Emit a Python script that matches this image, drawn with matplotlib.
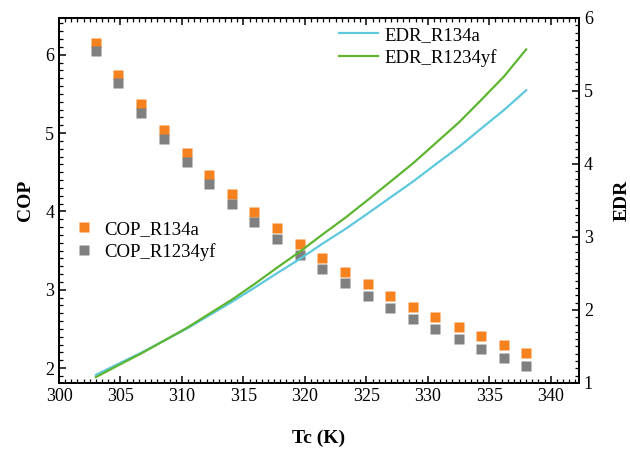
import matplotlib

matplotlib.use("Agg")
import matplotlib.pyplot as plt
from matplotlib.ticker import MultipleLocator

plt.rcParams["font.family"] = ["Liberation Serif", "DejaVu Serif"]

# condensing temperature (K)
tc = [303.0, 304.8, 306.7, 308.5, 310.4, 312.2, 314.1, 315.9, 317.7, 319.6,
      321.4, 323.3, 325.1, 326.9, 328.8, 330.6, 332.5, 334.3, 336.2, 338.0]

cop_r134a = [6.157, 5.748, 5.378, 5.045, 4.744, 4.470, 4.220, 3.990, 3.785, 3.585,
             3.400, 3.231, 3.074, 2.924, 2.783, 2.648, 2.528, 2.409, 2.299, 2.188]
cop_r1234yf = [6.051, 5.638, 5.263, 4.927, 4.629, 4.348, 4.096, 3.866, 3.645, 3.448,
               3.261, 3.086, 2.920, 2.770, 2.630, 2.494, 2.366, 2.243, 2.132, 2.022]

edr_r134a = [1.11, 1.26, 1.415, 1.575, 1.745, 1.925, 2.115, 2.305, 2.50, 2.70,
             2.905, 3.11, 3.32, 3.535, 3.76, 3.99, 4.23, 4.48, 4.74, 5.01]
edr_r1234yf = [1.08, 1.24, 1.405, 1.575, 1.755, 1.945, 2.145, 2.355, 2.575, 2.80,
               3.03, 3.265, 3.505, 3.75, 4.01, 4.28, 4.565, 4.87, 5.20, 5.57]

ORANGE = "#f5821f"
GRAY = "#808080"
BLUE = "#5ec8dc"
GREEN = "#5db531"

fig = plt.figure(figsize=(6.3, 4.5), dpi=100)
ax = fig.add_axes([0.0937, 0.149, 0.8254, 0.811])
ax2 = ax.twinx()

ax.plot(tc, cop_r134a, "s", ms=6.5, color=ORANGE, mec="none", label="COP_R134a")
ax.plot(tc, cop_r1234yf, "s", ms=6.5, color=GRAY, mec="none", label="COP_R1234yf")
ax2.plot(tc, edr_r134a, "-", lw=1.6, color=BLUE, label="EDR_R134a")
ax2.plot(tc, edr_r1234yf, "-", lw=1.6, color=GREEN, label="EDR_R1234yf")

ax.set_xlim(300, 342.3)
ax.set_ylim(1.81, 6.47)
ax2.set_ylim(1, 6)

ax.xaxis.set_major_locator(MultipleLocator(5))
ax.xaxis.set_minor_locator(MultipleLocator(0.5))
ax.yaxis.set_major_locator(MultipleLocator(1))
ax.yaxis.set_minor_locator(MultipleLocator(0.1))
ax2.yaxis.set_major_locator(MultipleLocator(1))
ax2.yaxis.set_minor_locator(MultipleLocator(0.1))

ax.tick_params(axis="x", which="both", direction="in", top=True, labelsize=13)
ax.tick_params(axis="y", which="both", direction="in", right=False, labelsize=13)
ax.tick_params(which="major", length=5, width=1.1)
ax.tick_params(which="minor", length=3, width=0.9)
ax2.tick_params(axis="y", which="both", direction="in", labelsize=13)
ax2.tick_params(which="major", length=5, width=1.1)
ax2.tick_params(which="minor", length=3, width=0.9)

for a in (ax, ax2):
    for s in a.spines.values():
        s.set_linewidth(1.3)

ax.set_xlabel("Tc (K)", fontsize=14, fontweight="bold", labelpad=18)
ax.set_ylabel("COP", fontsize=14, fontweight="bold", labelpad=8)
ax2.set_ylabel("EDR", fontsize=14, fontweight="bold", rotation=90, labelpad=15)

ax.legend(loc="upper left", bbox_to_anchor=(-0.003, 0.48), frameon=False,
          fontsize=13.5, handlelength=1.4, handletextpad=0.4, labelspacing=0.25,
          borderaxespad=0.3)
ax2.legend(loc="upper left", bbox_to_anchor=(0.505, 1.022), frameon=False,
           fontsize=13.5, handlelength=2.1, handletextpad=0.35, labelspacing=0.25)

fig.savefig("out.png", dpi=100)
